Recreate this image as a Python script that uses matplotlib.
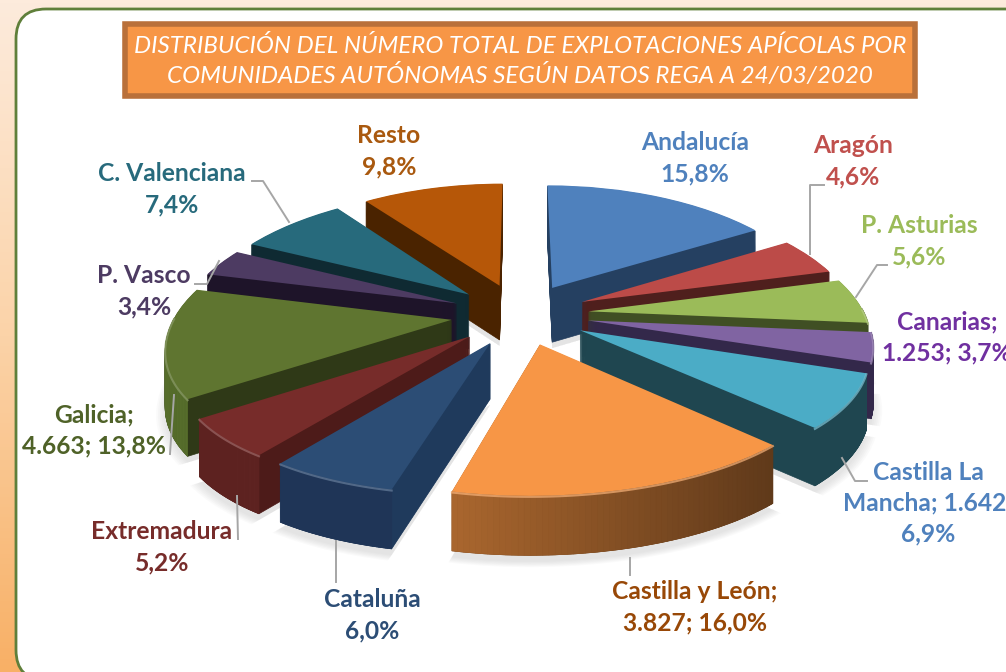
import numpy as np
from matplotlib import pyplot as plt
from matplotlib import patches
from matplotlib.collections import PolyCollection
from matplotlib.colors import to_rgb, LinearSegmentedColormap
from matplotlib.transforms import Transform

plt.rcParams['font.family'] = ['Lato', 'DejaVu Sans']

#datos del grafico
nombres = ['Andalucía', 'Aragón', 'P. Asturias', 'Canarias', 'Castilla La Mancha', 'Castilla y León',
           'Cataluña', 'Extremadura', 'Galicia', 'P. Vasco', 'C. Valenciana', 'Resto']
valores = [15.8, 4.6, 5.6, 3.7, 6.9, 16.0, 6.0, 5.2, 13.8, 3.4, 7.4, 9.8]
separacion = [0.25] * 12
titulo = 'DISTRIBUCIÓN DEL NÚMERO TOTAL DE EXPLOTACIONES APÍCOLAS POR\nCOMUNIDADES AUTÓNOMAS SEGÚN DATOS REGA A 24/03/2020'

c_top = ['#4F81BD', '#BC4B48', '#9BBB59', '#8064A2', '#4BACC6', '#F79646',
         '#2C4D75', '#772C2A', '#5F7530', '#4D3B62', '#276A7C', '#B65708']
c_radial = ['#254061', '#4F1F1D', '#404F24', '#33284A', '#1F4650', '#653A17',
            '#1F3A5C', '#4D1B19', '#2F3917', '#1E1429', '#0F2A32', '#4A2300']
c_wall_izq = ['#254061', '#4F1F1D', '#404F24', '#33284A', '#1F4650', '#A9662E',
              '#1F3557', '#5E2321', '#566D2B', '#1E1429', '#0F2A32', '#4A2300']
c_wall_der = ['#254061', '#4F1F1D', '#404F24', '#33284A', '#1F4650', '#5F391A',
              '#1F3557', '#5E2321', '#566D2B', '#1E1429', '#0F2A32', '#4A2300']
#orden de pintado, de atras hacia delante
orden = [11, 0, 1, 10, 9, 2, 3, 8, 4, 7, 6, 5]

#etiquetas: texto, x, y, color
etiquetas = [('Resto\n9,8%', 389, 151, '#A9590F'),
             ('Andalucía\n15,8%', 695, 158, '#4F81BD'),
             ('Aragón\n4,6%', 853, 161, '#C0504D'),
             ('P. Asturias\n5,6%', 919, 241, '#9BBB59'),
             ('Canarias;\n1.253; 3,7%', 947, 337, '#7030A0'),
             ('Castilla La\nMancha; 1.642;\n6,9%', 928, 503, '#4F81BD'),
             ('Castilla y León;\n3.827; 16,0%', 695, 607, '#984807'),
             ('Cataluña\n6,0%', 372, 615, '#2C4D75'),
             ('Extremadura\n5,2%', 162, 547, '#772C2A'),
             ('Galicia;\n4.663; 13,8%', 94, 430, '#4F6228'),
             ('P. Vasco\n3,4%', 144, 291, '#4D3B62'),
             ('C. Valenciana\n7,4%', 172, 189, '#276A7C')]
guias = [[(252, 181), (263, 181), (289, 222)],
         [(195, 284), (207, 284), (219, 261)],
         [(170, 454), (174, 395)],
         [(238, 539), (237, 496)],
         [(336, 582), (336, 541)],
         [(630, 575), (630, 558)],
         [(867, 481), (855, 481), (842, 458)],
         [(887, 265), (877, 265), (856, 297)],
         [(824, 185), (810, 185), (810, 254)]]

X0, Y0, RX, RY, P, PX, CIZALLA = 520, 314, 276, 122.6, 0.1325, 0.18, 10
PROF = 55


class Tilt(Transform):
    #perspectiva del circulo, z baja la cara en pixeles
    input_dims = 2
    output_dims = 2

    def __init__(self, z=0):
        super().__init__()
        self.z = z

    def transform_non_affine(self, xy):
        xy = np.asarray(xy, dtype=float)
        x, y = xy[:, 0], xy[:, 1]
        px = X0 + RX * x / (1 + PX * y) - CIZALLA * np.minimum(y, 0) ** 2
        py = Y0 - RY * y / (1 + P * y) + self.z / (1 + 0.06 * y)
        return np.column_stack([px, py])


fig = plt.figure(figsize=(10.06, 6.72), dpi=100)
ax = fig.add_axes([0, 0, 1, 1])

wedges, _ = ax.pie(valores, explode=separacion, startangle=90, counterclock=False, colors=c_top, radius=1)
ax.set_aspect('auto')
ax.axis('off')

#fondo degradado
fondo = LinearSegmentedColormap.from_list('fondo', ['#FDEBDC', '#FBD3A8', '#F8B066'])
ax.imshow(np.linspace(0, 1, 200).reshape(-1, 1), cmap=fondo, extent=(0, 1006, 672, 0), aspect='auto', zorder=0)
ax.set_xlim(0, 1006)
ax.set_ylim(672, 0)

panel = patches.FancyBboxPatch((16, 9), 1100, 671, boxstyle='round,pad=0,rounding_size=30',
                               fc='white', ec='#5F7F3A', lw=2, zorder=1)
ax.add_patch(panel)

caja = patches.Rectangle((125, 24), 790, 72, fc='#F79646', ec='#B9703A', lw=4, zorder=2)
ax.add_patch(caja)
ax.text(520, 61, titulo, color='white', style='italic', fontsize=17.4, ha='center', va='center',
        linespacing=1.38, zorder=3)

for i in orden:
    w = wedges[i]
    base = 10 + 10 * orden.index(i)
    #sombra
    for k in range(6):
        s = patches.Wedge(w.center, w.r * (1.0 + 0.006 * k), w.theta1, w.theta2, fc='#808080', ec='none',
                          alpha=0.035, transform=Tilt(PROF + 6) + ax.transData, zorder=5)
        ax.add_patch(s)
    #paredes rectas, por capas
    for z in range(PROF, 0, -1):
        capa = patches.Wedge(w.center, w.r, w.theta1, w.theta2, fc=c_radial[i], ec=c_radial[i], lw=0.5,
                             transform=Tilt(z) + ax.transData, zorder=base + 1)
        ax.add_patch(capa)
    #pared exterior
    ang = np.radians(np.linspace(w.theta1, w.theta2, 60))
    puntos = np.column_stack([w.center[0] + w.r * np.cos(ang), w.center[1] + w.r * np.sin(ang)])
    arriba = Tilt(0).transform_non_affine(puntos)
    abajo = Tilt(PROF).transform_non_affine(puntos)
    quads, tonos = [], []
    xmin, xmax = arriba[:, 0].min(), arriba[:, 0].max()
    for j in range(len(ang) - 1):
        if np.sin(ang[j]) < 0.02:
            quads.append([arriba[j], arriba[j + 1], abajo[j + 1], abajo[j]])
            t = (arriba[j, 0] - xmin) / max(xmax - xmin, 1)
            tonos.append(tuple((1 - t) * np.array(to_rgb(c_wall_izq[i])) + t * np.array(to_rgb(c_wall_der[i]))))
    if quads:
        ax.add_collection(PolyCollection(quads, facecolors=tonos, edgecolors=tonos, linewidths=0.5, zorder=base + 2))
    #cara superior
    w.set_transform(Tilt(0) + ax.transData)
    w.set_zorder(base + 3)
    w.set_edgecolor('none')
    #brillo del borde
    if quads:
        frente = np.sin(ang) < 0.02
        claro = 0.72 * np.array(to_rgb(c_top[i])) + 0.28
        ax.plot(arriba[frente, 0], arriba[frente, 1] + 1, color=claro, lw=1.5, alpha=0.7, zorder=base + 4)

for puntos in guias:
    ax.plot([p[0] for p in puntos], [p[1] for p in puntos], color='#A6A6A6', lw=1.4, zorder=200)

for texto, x, y, color in etiquetas:
    ax.text(x, y, texto, color=color, fontsize=17.7, fontweight='bold', ha='center', va='center',
            linespacing=1.42, zorder=201, clip_on=True)

fig.savefig('out.png', dpi=100)
